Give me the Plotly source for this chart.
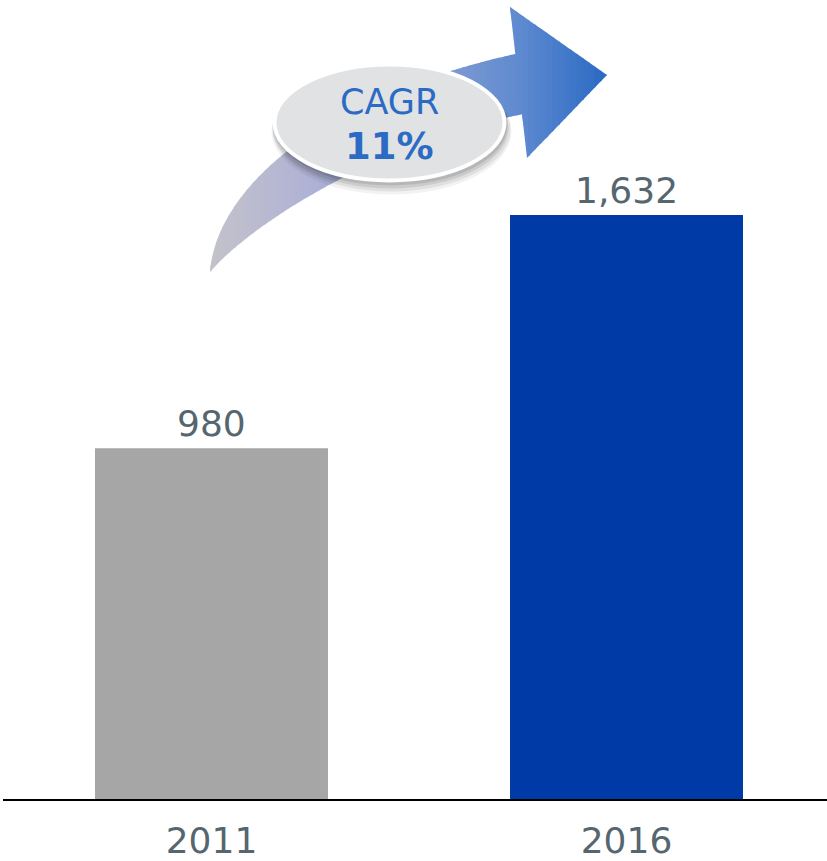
import plotly.graph_objects as go

# ---- data ----
years = ["2011", "2016"]
values = [980, 1632]
bar_colors = ["#A6A6A6", "#003AA6"]
cagr_label = "CAGR"
cagr_value = "11%"

W, H = 827, 861
ML, MR, MT, MB = 3, 0, 0, 62
PW, PH = W - ML - MR, H - MT - MB

def px(x):
    return (x - ML) / PW

def py(y):
    return (H - MB - y) / PH

def bez(p0, p1, p2, p3, n=40):
    pts = []
    for i in range(n + 1):
        t = i / n
        a, b, c, d = (1 - t) ** 3, 3 * (1 - t) ** 2 * t, 3 * (1 - t) * t ** 2, t ** 3
        pts.append((a * p0[0] + b * p1[0] + c * p2[0] + d * p3[0],
                    a * p0[1] + b * p1[1] + c * p2[1] + d * p3[1]))
    return pts

upper = bez((210, 272), (215, 200), (300, 100), (524, 52))
lower = bez((210, 272), (250, 225), (380, 140), (534, 112))
shaft = upper + lower[::-1]
head = [(510, 7), (607, 75), (527, 158)]

def clip(poly, xmin, xmax):
    def clip_half(p, keep, inter):
        out = []
        n = len(p)
        for i in range(n):
            cur, prev = p[i], p[i - 1]
            if keep(cur):
                if not keep(prev):
                    out.append(inter(prev, cur))
                out.append(cur)
            elif keep(prev):
                out.append(inter(prev, cur))
        return out

    def ix(xv):
        def f(a, b):
            t = (xv - a[0]) / (b[0] - a[0])
            return (xv, a[1] + t * (b[1] - a[1]))
        return f

    p = clip_half(poly, lambda q: q[0] >= xmin, ix(xmin))
    if not p:
        return p
    p = clip_half(p, lambda q: q[0] <= xmax, ix(xmax))
    return p

stops = [(205, (196, 196, 202)), (300, (178, 180, 212)), (420, (140, 160, 212)),
         (520, (95, 138, 208)), (610, (40, 105, 195))]

def color_at(x):
    for (x0, c0), (x1, c1) in zip(stops, stops[1:]):
        if x <= x1:
            t = max(0.0, min(1.0, (x - x0) / (x1 - x0)))
            c = [round(c0[k] + t * (c1[k] - c0[k])) for k in range(3)]
            return "rgb(%d,%d,%d)" % tuple(c)
    return "rgb(%d,%d,%d)" % stops[-1][1]

shapes = []
step = 6
x = 205
while x < 612:
    col = color_at(x + step / 2)
    for poly in (shaft, head):
        c = clip(poly, x - 0.6, x + step + 0.6)
        if len(c) >= 3:
            path = "M " + " L ".join("%.5f,%.5f" % (px(a), py(b)) for a, b in c) + " Z"
            shapes.append(dict(type="path", xref="paper", yref="paper", path=path,
                               fillcolor=col, line=dict(width=0), layer="above"))
    x += step

# ellipse with soft shadow
cx, cy, rx, ry = 389.5, 122.5, 117, 60
for dx, dy, grow, a in [(2, 9, 3, 0.05), (2, 7, 2, 0.07), (1, 5, 1, 0.09), (1, 3, 0, 0.10)]:
    shapes.append(dict(type="circle", xref="paper", yref="paper",
                       x0=px(cx - rx - grow + dx), x1=px(cx + rx + grow + dx),
                       y0=py(cy + ry + grow + dy), y1=py(cy - ry - grow + dy),
                       fillcolor="rgba(0,0,0,%.2f)" % a, line=dict(width=0), layer="above"))
shapes.append(dict(type="circle", xref="paper", yref="paper",
                   x0=px(cx - rx), x1=px(cx + rx), y0=py(cy + ry), y1=py(cy - ry),
                   fillcolor="white", line=dict(width=0), layer="above"))
shapes.append(dict(type="circle", xref="paper", yref="paper",
                   x0=px(cx - rx + 4), x1=px(cx + rx - 4), y0=py(cy + ry - 4), y1=py(cy - ry + 4),
                   fillcolor="#E1E2E4", line=dict(width=0), layer="above"))

label_color = "#56666F"
xidx = list(range(len(years)))
fig = go.Figure(go.Bar(x=xidx, y=values, marker=dict(color=bar_colors, line=dict(width=0)),
                       width=0.5614, hoverinfo="skip"))

annotations = []
for i, v in zip(xidx, values):
    annotations.append(dict(x=i, y=v, xref="x", yref="y", text=f"{v:,}", showarrow=False,
                            xanchor="center", yanchor="bottom", yshift=2,
                            font=dict(family="DejaVu Sans", size=36, color=label_color)))
annotations.append(dict(x=px(389), y=py(102), xref="paper", yref="paper", text=cagr_label,
                        xanchor="center", yanchor="middle", showarrow=False,
                        font=dict(family="DejaVu Sans", size=35, color="#2B6BC4")))
annotations.append(dict(x=px(389), y=py(146), xref="paper", yref="paper", text="<b>%s</b>" % cagr_value,
                        xanchor="center", yanchor="middle", showarrow=False,
                        font=dict(family="DejaVu Sans", size=37, color="#2B6BC4")))

fig.update_layout(
    width=W, height=H,
    margin=dict(l=ML, r=MR, t=MT, b=MB, pad=0, autoexpand=False),
    paper_bgcolor="white", plot_bgcolor="white",
    showlegend=False,
    shapes=shapes,
    annotations=annotations,
    xaxis=dict(type="linear", range=[-0.5024, 1.4831], showline=True, linecolor="black",
               linewidth=2, ticks="", showgrid=False, zeroline=False, ticklabelstandoff=9,
               automargin=False,
               tickmode="array", tickvals=xidx, ticktext=years,
               tickfont=dict(family="DejaVu Sans", size=36, color=label_color), fixedrange=True),
    yaxis=dict(range=[0, 2233], visible=False, fixedrange=True, automargin=False),
)

fig.write_html("out.html", config={"displayModeBar": False},
               post_script="document.body.style.margin='0';")
